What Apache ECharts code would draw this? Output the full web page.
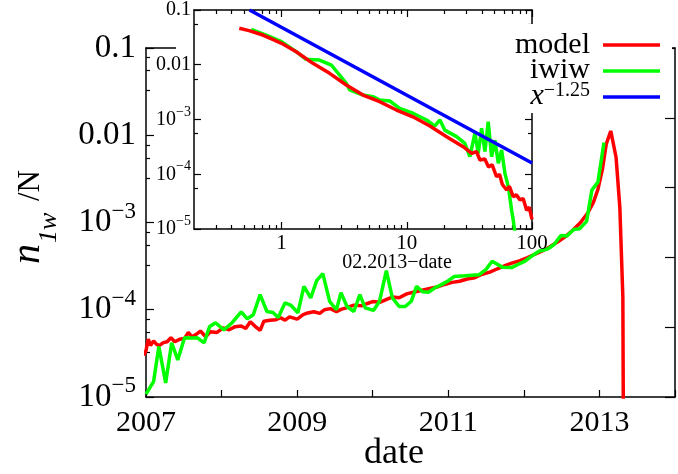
<!DOCTYPE html>
<html><head><meta charset="utf-8">
<script src="https://cdn.jsdelivr.net/npm/echarts@6/dist/echarts.min.js"></script>
<style>html,body{margin:0;padding:0;background:#fff}#c{width:678px;height:474px}</style>
</head><body><div id="c"></div>
<script>
// ---- main panel data (date vs n_1w/N) ----
const modelDates = [2006.97,2007.00,2007.03,2007.06,2007.10,2007.14,2007.18,2007.23,2007.28,2007.33,2007.38,2007.45,2007.51,2007.56,2007.61,2007.66,2007.72,2007.79,2007.85,2007.94,
  2008.02,2008.10,2008.18,2008.26,2008.32,2008.38,2008.44,2008.51,2008.56,2008.64,2008.72,2008.78,2008.84,2008.90,
  2009.00,2009.08,2009.14,2009.22,2009.30,2009.36,2009.44,2009.52,2009.58,2009.65,2009.75,2009.85,2009.93,
  2010.00,2010.10,2010.20,2010.26,2010.35,2010.45,2010.55,2010.64,2010.74,2010.85,2010.95,
  2011.05,2011.15,2011.25,2011.35,2011.45,2011.55,2011.65,2011.75,2011.85,2011.95,
  2012.05,2012.15,2012.25,2012.35,2012.45,2012.55,2012.65,2012.75,2012.85,2012.92,2012.98,
  2013.04,2013.09,2013.15,2013.22,2013.27,2013.31,2013.325];
const modelValues = [3.0e-5,3.4e-5,4.6e-5,3.9e-5,4.4e-5,4.0e-5,3.9e-5,4.2e-5,4.3e-5,4.8e-5,4.3e-5,4.6e-5,4.7e-5,5.5e-5,4.9e-5,5.2e-5,5.7e-5,4.9e-5,5.6e-5,5.5e-5,
  6.2e-5,5.9e-5,6.4e-5,6.5e-5,6.1e-5,7.3e-5,6.5e-5,5.8e-5,7.4e-5,7.6e-5,7.7e-5,8.1e-5,7.6e-5,8.3e-5,
  7.8e-5,8.8e-5,9.2e-5,9.5e-5,9.1e-5,1.0e-4,1.03e-4,9.5e-5,1.01e-4,1.05e-4,1.13e-4,1.11e-4,1.18e-4,
  1.24e-4,1.22e-4,1.33e-4,1.40e-4,1.37e-4,1.52e-4,1.60e-4,1.66e-4,1.74e-4,1.82e-4,1.95e-4,
  2.06e-4,2.12e-4,2.25e-4,2.33e-4,2.55e-4,2.70e-4,2.95e-4,3.20e-4,3.45e-4,3.65e-4,
  3.95e-4,4.35e-4,4.75e-4,5.3e-4,6.0e-4,6.9e-4,8.2e-4,1.0e-3,1.3e-3,1.7e-3,2.4e-3,
  4.1e-3,7.9e-3,1.12e-2,5.6e-3,1.5e-3,1.4e-4,1.0e-7];
const iwiwDates = [2007.00,2007.10,2007.17,2007.26,2007.34,2007.42,2007.51,2007.59,2007.68,2007.77,2007.84,2007.92,
  2008.03,2008.14,2008.26,2008.34,2008.42,2008.51,2008.60,2008.68,2008.75,2008.84,2008.92,
  2009.01,2009.09,2009.18,2009.26,2009.34,2009.43,2009.52,2009.58,2009.66,2009.75,2009.83,2009.90,
  2010.01,2010.09,2010.18,2010.26,2010.35,2010.43,2010.51,2010.58,2010.66,2010.74,2010.83,2010.91,
  2011.00,2011.08,2011.22,2011.41,2011.50,2011.58,2011.72,2011.84,2011.92,
  2012.01,2012.10,2012.20,2012.32,2012.40,2012.49,2012.57,2012.66,2012.74,2012.83,2012.90,2012.98,2013.06];
const iwiwValues = [1.08e-5,1.50e-5,3.79e-5,1.45e-5,4.18e-5,2.66e-5,4.77e-5,4.75e-5,4.77e-5,4.18e-5,6.38e-5,7.10e-5,
  5.89e-5,7.10e-5,9.48e-5,7.88e-5,8.77e-5,1.49e-4,9.55e-5,9.31e-5,8.15e-5,1.20e-4,1.12e-4,
  9.24e-5,1.85e-4,1.37e-4,2.17e-4,2.59e-4,1.25e-4,1.00e-4,1.57e-4,1.09e-4,9.55e-5,1.49e-4,1.05e-4,
  9.82e-5,1.25e-4,2.81e-4,1.37e-4,1.09e-4,1.09e-4,1.25e-4,1.85e-4,1.61e-4,1.59e-4,1.80e-4,1.94e-4,
  2.15e-4,2.41e-4,2.45e-4,2.52e-4,2.9e-4,3.59e-4,3.06e-4,3.04e-4,3.3e-4,
  3.59e-4,4.1e-4,4.68e-4,5.0e-4,5.59e-4,7.10e-4,7.0e-4,8.32e-4,8.5e-4,1.03e-3,2.35e-3,2.90e-3,8.24e-3];

// ---- inset data (02.2013 - date) ----
const insetModelX = [0.46,0.55,0.709,0.85,1.0,1.31,1.78,2.42,3.29,4.47,6.08,8.27,11.2,15.3,20.8,28.2,33,36,38.4,42,45,48,52.1,55,58,62.7,66,70.8,75,80.2,85,90.6,95,100];
const insetModelY = [0.0463,0.042,0.0349,0.029,0.0246,0.0173,0.0106,0.00697,0.00427,0.0028,0.00211,0.00149,0.00112,7.6e-4,4.86e-4,3.18e-4,2.4e-4,2.6e-4,1.82e-4,1.9e-4,1.35e-4,1.5e-4,9.0e-5,1.0e-4,6.5e-5,5.15e-5,6.0e-5,3.9e-5,4.2e-5,3.4e-5,3.6e-5,2.2e-5,2.5e-5,1.5e-5];
const insetIwiwX = [0.572,0.754,1.0,1.31,1.57,2.01,2.5,3.29,3.5,4.47,5.37,6.08,7.31,8.79,11.2,14.4,16.7,18.4,20.1,25,29.1,31.9,35,37.2,39.6,42.1,44.7,47.6,50.6,53.8,57.2,60.8,64.7,68.8,70.8,75.4];
const insetIwiwY = [0.0444,0.0349,0.0264,0.0173,0.0126,0.0122,0.00989,0.00458,0.00346,0.0028,0.00261,0.00227,0.00218,0.0016,0.0013,9.8e-4,7.6e-4,9.8e-4,6.4e-4,4.86e-4,3.67e-4,2.09e-4,5.6e-4,2.41e-4,6.9e-4,2.59e-4,9.1e-4,2.09e-4,4.2e-4,1.58e-4,2.77e-4,1.04e-4,5.9e-5,2.2e-5,1.46e-5,5e-6];
const powerLawX = [0.555, 100];
const powerLawY = [0.1, 1.6e-4];

// ---- ticks / labels ----
const mainXLabelYears = [2007, 2009, 2011, 2013];
const mainYTicks = [1e-5, 1e-4, 1e-3, 0.01, 0.1];
const mainYTickText = [['10','−5'],['10','−4'],['10','−3'],['0.01',''],['0.1','']];
const insetXMajor = [1, 10, 100];
const insetXMinor = [0.3,0.4,0.5,0.6,0.7,0.8,0.9,2,3,4,5,6,7,8,9,20,30,40,50,60,70,80,90];
const insetYTicks = [1e-5, 1e-4, 1e-3, 0.01, 0.1];
const insetYTickText = [['10','−5'],['10','−4'],['10','−3'],['0.01',''],['0.1','']];
const seriesNames = ['model', 'iwiw'];
const powerLawExponent = '−1.25';
const yNameParts = ['n', '1w', '/N'];

const serif = 'Liberation Serif';
const RED = '#ff0000', GREEN = '#00ff00', BLUE = '#0000ff';
const zip = (a, b) => a.map((v, i) => [v, b[i]]);
function supFmt(ticks, texts) {
  return function (v) {
    let best = 0, bd = Infinity;
    ticks.forEach((t, i) => { const d = Math.abs(Math.log10(t) - Math.log10(v)); if (d < bd) { bd = d; best = i; } });
    const t = texts[best];
    return t[1] ? '{b|' + t[0] + '}{s|' + t[1] + '}' : '{b|' + t[0] + '}';
  };
}
const axLine = { show: true, onZero: false, lineStyle: { color: '#000', width: 1.5 } };
const tickStyle = { color: '#000', width: 1.2 };

const chart = echarts.init(document.getElementById('c'));
chart.setOption({
  animation: false,
  backgroundColor: '#fff',
  grid: [
    { left: 146, top: 48, width: 539, height: 349, show: false },
    { left: 194, top: 10, width: 338, height: 219, show: true, backgroundColor: '#fff', borderWidth: 0 }
  ],
  xAxis: [
    { gridIndex: 0, type: 'value', min: 2007, max: 2014, interval: 1, position: 'bottom',
      axisLine: axLine, axisTick: { inside: true, length: 7, lineStyle: tickStyle },
      axisLabel: { formatter: v => mainXLabelYears.indexOf(Math.round(v)) >= 0 ? String(Math.round(v)) : '',
        fontFamily: serif, fontSize: 30, color: '#000', margin: 11 },
      splitLine: { show: false } },
    { gridIndex: 0, type: 'value', min: 2007, max: 2014, position: 'top',
      axisLine: axLine, axisTick: { show: false }, axisLabel: { show: false }, splitLine: { show: false } },
    { gridIndex: 1, type: 'log', min: 0.2, max: 100, position: 'bottom', z: 20,
      axisLine: axLine, axisTick: { inside: true, length: 7, lineStyle: tickStyle, customValues: insetXMajor },
      axisLabel: { customValues: insetXMajor, formatter: v => String(Math.round(v)), fontFamily: serif, fontSize: 21, color: '#000', margin: 4 },
      splitLine: { show: false } },
    { gridIndex: 1, type: 'log', min: 0.2, max: 100, position: 'bottom', z: 20,
      axisLine: { show: false }, axisTick: { inside: true, length: 4, lineStyle: tickStyle, customValues: insetXMinor },
      axisLabel: { show: false }, splitLine: { show: false } },
    { gridIndex: 1, type: 'log', min: 0.2, max: 100, position: 'top', z: 20,
      axisLine: axLine, axisTick: { inside: true, length: 7, lineStyle: tickStyle, customValues: insetXMajor },
      axisLabel: { show: false }, splitLine: { show: false } },
    { gridIndex: 1, type: 'log', min: 0.2, max: 100, position: 'top', z: 20,
      axisLine: { show: false }, axisTick: { inside: true, length: 4, lineStyle: tickStyle, customValues: insetXMinor },
      axisLabel: { show: false }, splitLine: { show: false } }
  ],
  yAxis: [
    { gridIndex: 0, type: 'log', min: 1e-5, max: 0.1, position: 'left',
      axisLine: axLine, axisTick: { inside: true, length: 8, lineStyle: tickStyle, customValues: mainYTicks },
      minorTick: { show: true, splitNumber: 4, length: 4, lineStyle: tickStyle },
      axisLabel: { customValues: mainYTicks, formatter: supFmt(mainYTicks, mainYTickText), color: '#000', margin: 10,
        rich: { b: { fontFamily: serif, fontSize: 33, lineHeight: 45, color: '#000' },
                s: { fontFamily: serif, fontSize: 23, lineHeight: 23, verticalAlign: 'top', color: '#000' } } },
      splitLine: { show: false } },
    { gridIndex: 0, type: 'value', min: 0, max: 5, interval: 1, position: 'right',
      axisLine: axLine, axisTick: { inside: true, length: 10, lineStyle: tickStyle },
      axisLabel: { show: false }, splitLine: { show: false } },
    { gridIndex: 1, type: 'log', min: 1e-5, max: 0.1, position: 'left', z: 20,
      axisLine: axLine, axisTick: { inside: true, length: 7, lineStyle: tickStyle, customValues: insetYTicks },
      minorTick: { show: true, splitNumber: 2, length: 4, lineStyle: tickStyle },
      axisLabel: { customValues: insetYTicks, formatter: supFmt(insetYTicks, insetYTickText), color: '#000', margin: 3,
        rich: { b: { fontFamily: serif, fontSize: 20, lineHeight: 29, color: '#000' },
                s: { fontFamily: serif, fontSize: 14, lineHeight: 14, verticalAlign: 'top', color: '#000' } } },
      splitLine: { show: false } },
    { gridIndex: 1, type: 'log', min: 1e-5, max: 0.1, position: 'right', z: 20,
      axisLine: axLine, axisTick: { inside: true, length: 7, lineStyle: tickStyle, customValues: insetYTicks },
      minorTick: { show: true, splitNumber: 2, length: 4, lineStyle: tickStyle },
      axisLabel: { show: false }, splitLine: { show: false } }
  ],
  series: [
    { name: seriesNames[0], type: 'line', xAxisIndex: 0, yAxisIndex: 0, data: zip(modelDates, modelValues),
      showSymbol: false, clip: true, z: 2, lineStyle: { color: RED, width: 3.5 } },
    { name: seriesNames[1], type: 'line', xAxisIndex: 0, yAxisIndex: 0, data: zip(iwiwDates, iwiwValues),
      showSymbol: false, clip: true, z: 3, lineStyle: { color: GREEN, width: 3.5 } },
    { name: seriesNames[1] + ' inset', type: 'line', xAxisIndex: 2, yAxisIndex: 2, data: zip(insetIwiwX, insetIwiwY),
      showSymbol: false, clip: true, z: 20, lineStyle: { color: GREEN, width: 3.5 } },
    { name: seriesNames[0] + ' inset', type: 'line', xAxisIndex: 2, yAxisIndex: 2, data: zip(insetModelX, insetModelY),
      showSymbol: false, clip: true, z: 21, lineStyle: { color: RED, width: 3.5 } },
    { name: 'power law', type: 'line', xAxisIndex: 2, yAxisIndex: 2, data: zip(powerLawX, powerLawY),
      showSymbol: false, clip: true, z: 22, lineStyle: { color: BLUE, width: 3.5 } }
  ],
  graphic: [
    { type: 'rect', z: 10, silent: true, shape: { x: 176, y: 44, width: 496, height: 9 }, style: { fill: '#fff' } },
    { type: 'rect', z: 25, silent: true, shape: { x: 505, y: 24, width: 167, height: 89 }, style: { fill: '#fff' } },
    { type: 'text', z: 30, x: 590, y: 45, style: { text: seriesNames[0], font: '30px "Liberation Serif"', fill: '#000', align: 'right', verticalAlign: 'middle' } },
    { type: 'text', z: 30, x: 590, y: 70.5, style: { text: seriesNames[1], font: '30px "Liberation Serif"', fill: '#000', align: 'right', verticalAlign: 'middle' } },
    { type: 'text', z: 30, x: 590, y: 96, style: { text: '{xi|x}{sup|' + powerLawExponent + '}', align: 'right', verticalAlign: 'middle',
        rich: { xi: { fontFamily: serif, fontStyle: 'italic', fontSize: 30, lineHeight: 30, color: '#000' },
                sup: { fontFamily: serif, fontSize: 20, lineHeight: 20, verticalAlign: 'top', color: '#000' } } } },
    { type: 'line', z: 30, shape: { x1: 603, y1: 45, x2: 660, y2: 45 }, style: { stroke: RED, lineWidth: 3.5 } },
    { type: 'line', z: 30, shape: { x1: 603, y1: 71, x2: 660, y2: 71 }, style: { stroke: GREEN, lineWidth: 3.5 } },
    { type: 'line', z: 30, shape: { x1: 603, y1: 97, x2: 660, y2: 97 }, style: { stroke: BLUE, lineWidth: 3.5 } },
    { type: 'text', z: 30, x: 394, y: 454, style: { text: 'date', font: '36px "Liberation Serif"', fill: '#000', align: 'center', verticalAlign: 'middle' } },
    { type: 'text', z: 30, x: 397, y: 263, style: { text: '02.2013−date', font: '20px "Liberation Serif"', fill: '#000', align: 'center', verticalAlign: 'middle' } },
    { type: 'text', z: 30, x: 28, y: 264, rotation: Math.PI / 2, style: { text: yNameParts[0], font: 'italic 40px "Liberation Serif"', fill: '#000', align: 'left', verticalAlign: 'middle' } },
    { type: 'text', z: 30, x: 49, y: 243, rotation: Math.PI / 2, style: { text: yNameParts[1], font: 'italic 26px "Liberation Serif"', fill: '#000', align: 'left', verticalAlign: 'middle' } },
    { type: 'text', z: 30, x: 31, y: 201, rotation: Math.PI / 2, style: { text: yNameParts[2], font: '31px "Liberation Serif"', fill: '#000', align: 'left', verticalAlign: 'middle' } }
  ]
});
</script></body></html>
